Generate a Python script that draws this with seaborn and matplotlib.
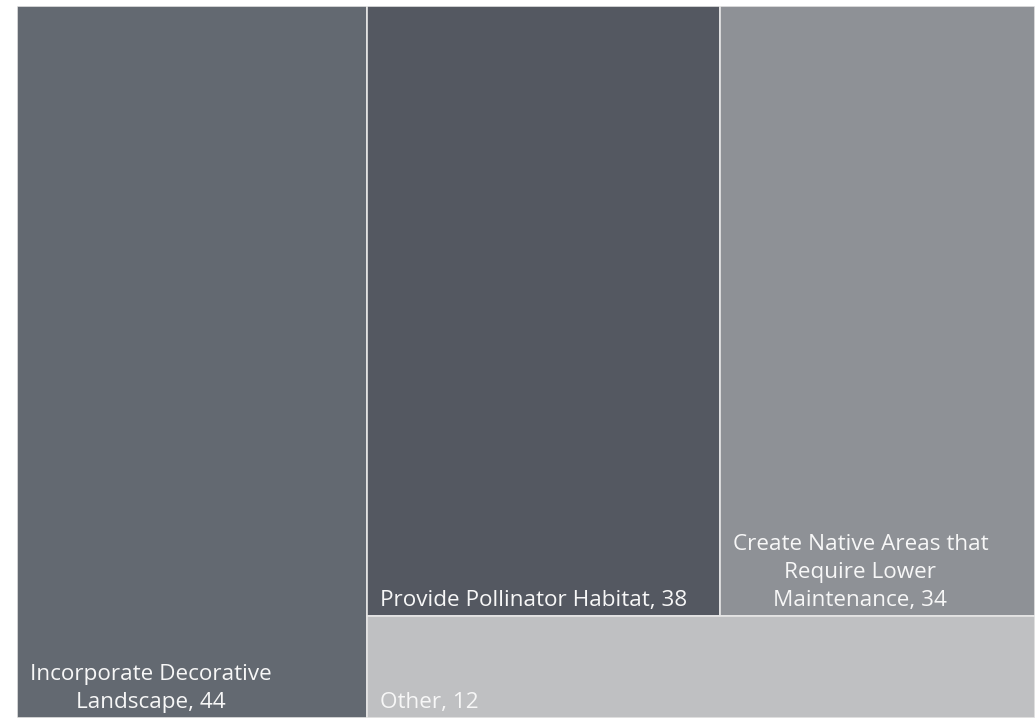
import matplotlib
matplotlib.use("Agg")
import matplotlib.pyplot as plt
import seaborn as sns
from matplotlib.patches import Rectangle

categories = ["Incorporate Decorative\nLandscape", "Provide Pollinator Habitat",
              "Create Native Areas that\nRequire Lower\nMaintenance", "Other"]
values = [44, 38, 34, 12]
colors = ["#636971", "#545861", "#8e9196", "#bfc0c2"]

sns.set_theme(style="white")
plt.rcParams['font.family'] = ['Open Sans', 'DejaVu Sans']

fig = plt.figure(figsize=(10.35, 7.18), dpi=100)
ax = fig.add_axes([17/1035, 0, 1018/1035, 712/718])
ax.set_xlim(0, 1)
ax.set_ylim(0, 1)
ax.axis("off")

total = sum(values)
# first item: full-height column
w0 = values[0] / total
rects = [(0, 0, w0, 1)]
rest = total - values[0]
top_sum = values[1] + values[2]
h_top = top_sum / rest
x = w0
for v in values[1:3]:
    w = (1 - w0) * v / top_sum
    rects.append((x, 1 - h_top, w, h_top))
    x += w
rects.append((w0, 0, 1 - w0, 1 - h_top))

for (rx, ry, rw, rh), c, lab, v in zip(rects, colors, categories, values):
    ax.add_patch(Rectangle((rx, ry), rw, rh, facecolor=c, edgecolor="#e6e6e6", linewidth=1.2))
    ax.text(rx + 13/1018, ry + 5/712, f"{lab}, {v}", ha="left", va="bottom",
            multialignment="center", color="#f7f7f7", fontsize=16.2, linespacing=1.45)

fig.savefig("out.png", dpi=100)
